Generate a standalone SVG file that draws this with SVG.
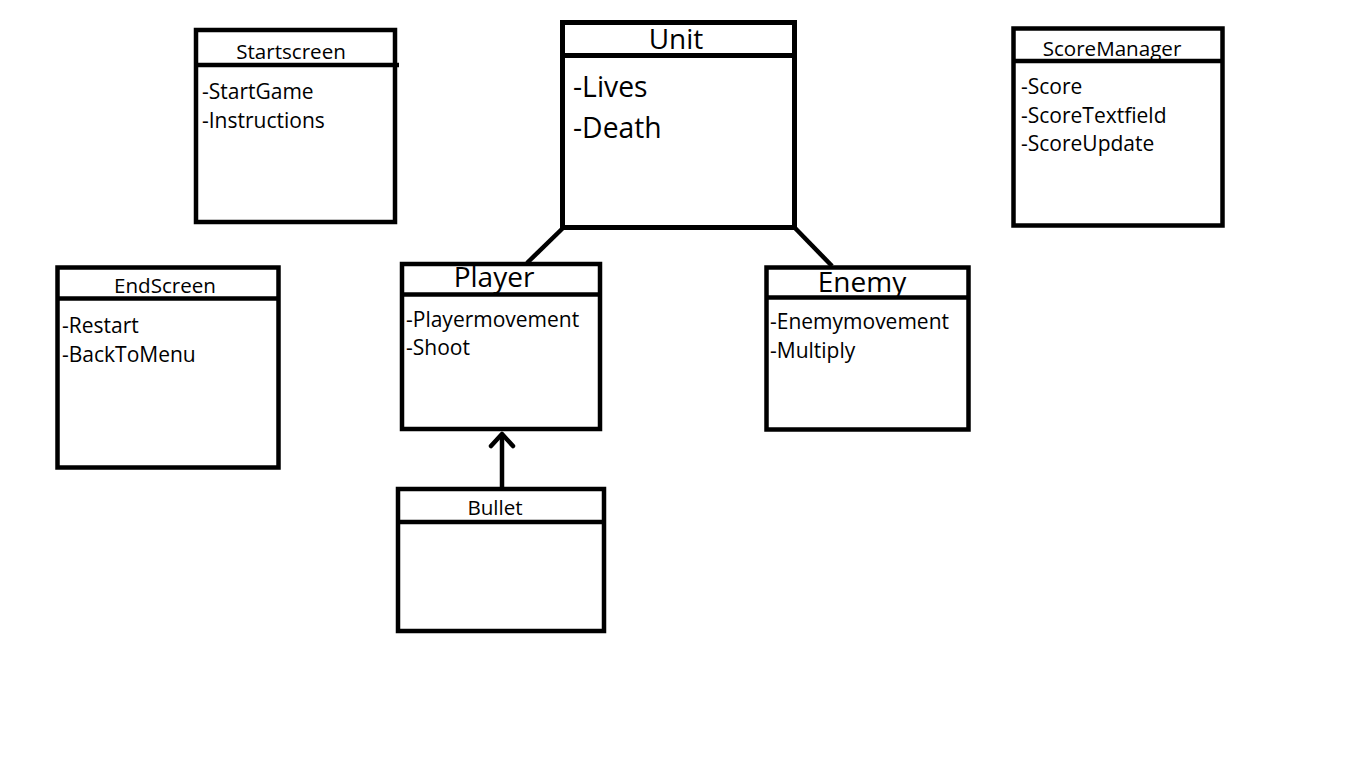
<svg xmlns="http://www.w3.org/2000/svg" width="1356" height="774" viewBox="0 0 1356 774">
  <style>
    .box { fill: #ffffff; stroke: #000000; stroke-width: 4.5; }
    .div { stroke: #000000; stroke-width: 4.5; }
    .conn { stroke: #000000; stroke-width: 4.5; fill: none; }
    text { font-family: "Open Sans", "Liberation Sans", sans-serif; fill: #000000; }
    .t { font-size: 20.6px; text-anchor: middle; }
    .T { font-size: 28px; text-anchor: middle; }
    .i { font-size: 21px; }
    .I { font-size: 28.3px; }
  </style>
  <defs>
    <marker id="open" markerUnits="userSpaceOnUse" markerWidth="32" markerHeight="32" viewBox="-16 -16 32 32" refX="0" refY="0" orient="auto">
      <path d="M-12,-11 L0,0 L-12,11" fill="none" stroke="#000000" stroke-width="4.5" stroke-linecap="round" stroke-linejoin="round"/>
    </marker>
  </defs>
  <rect width="1356" height="774" fill="#ffffff"/>

  <g id="connectors">
    <line class="conn" x1="563" y1="228" x2="527" y2="263"/>
    <line class="conn" x1="795" y1="228" x2="832" y2="266"/>
    <line class="conn" x1="502" y1="488" x2="502" y2="434" marker-end="url(#open)"/>
  </g>

  <g id="startscreen">
    <rect class="box" x="196" y="30" width="199" height="192"/>
    <line class="div" x1="196" y1="65" x2="399" y2="65"/>
    <text class="t" x="291" y="59">Startscreen</text>
    <text class="i" x="202" y="99">-StartGame</text>
    <text class="i" x="202" y="128">-Instructions</text>
  </g>

  <g id="unit">
    <rect class="box" x="562.5" y="22.5" width="232" height="205" style="stroke-width:5"/>
    <line class="div" x1="562.5" y1="55.5" x2="794.5" y2="55.5" style="stroke-width:5"/>
    <text class="T" x="676" y="49">Unit</text>
    <text class="I" x="573" y="97">-Lives</text>
    <text class="I" x="573" y="138">-Death</text>
  </g>

  <g id="scoremanager">
    <rect class="box" x="1013.5" y="28.5" width="209" height="197"/>
    <line class="div" x1="1013.5" y1="61" x2="1222.5" y2="61"/>
    <text class="t" x="1112" y="56">ScoreManager</text>
    <text class="i" x="1021" y="94">-Score</text>
    <text class="i" x="1021" y="123">-ScoreTextfield</text>
    <text class="i" x="1021" y="151">-ScoreUpdate</text>
  </g>

  <g id="endscreen">
    <rect class="box" x="57.5" y="267.5" width="221" height="200"/>
    <line class="div" x1="57.5" y1="298.5" x2="278.5" y2="298.5"/>
    <text class="t" x="165" y="293">EndScreen</text>
    <text class="i" x="62" y="333">-Restart</text>
    <text class="i" x="62" y="362">-BackToMenu</text>
  </g>

  <g id="player">
    <rect class="box" x="402" y="264" width="198" height="165"/>
    <line class="div" x1="402" y1="294.5" x2="600" y2="294.5"/>
    <text class="T" x="494" y="287">Player</text>
    <text class="i" x="406" y="327">-Playermovement</text>
    <text class="i" x="406" y="355">-Shoot</text>
  </g>

  <g id="enemy">
    <rect class="box" x="766.5" y="267.5" width="202" height="162"/>
    <line class="div" x1="766.5" y1="297.5" x2="968.5" y2="297.5"/>
    <text class="T" x="862" y="292">Enemy</text>
    <text class="i" x="770" y="329">-Enemymovement</text>
    <text class="i" x="770" y="358">-Multiply</text>
  </g>

  <g id="bullet">
    <rect class="box" x="398" y="489" width="206" height="142"/>
    <line class="div" x1="398" y1="522" x2="604" y2="522"/>
    <text class="t" x="495" y="515">Bullet</text>
  </g>
</svg>
